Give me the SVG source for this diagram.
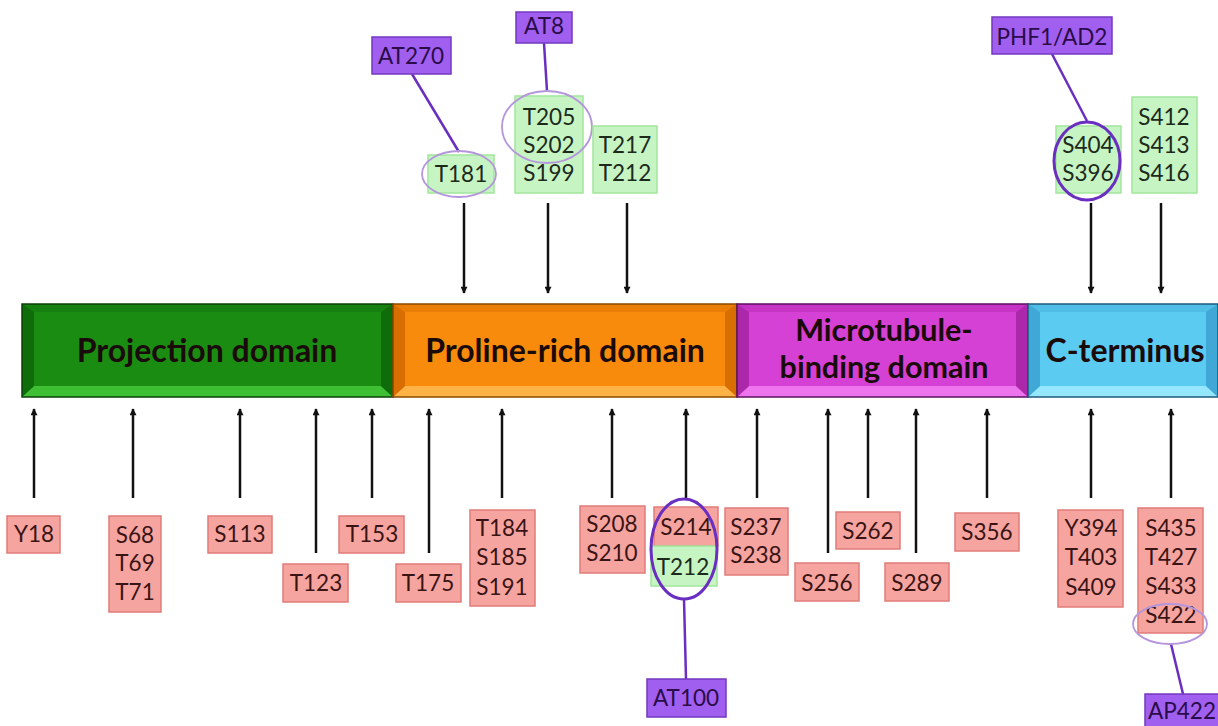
<svg xmlns="http://www.w3.org/2000/svg" width="1218" height="726" viewBox="0 0 1218 726">
<defs>
<marker id="ah" viewBox="0 0 10 10" refX="9" refY="5" markerWidth="8" markerHeight="7" orient="auto" markerUnits="userSpaceOnUse"><path d="M0,0 L10,5 L0,10 z" fill="#111"/></marker>
<style>
.lbl{font-family:Lato,"Open Sans","Liberation Sans",sans-serif;font-size:22.5px;text-anchor:middle}
.dom{font-family:Lato,"Open Sans","Liberation Sans",sans-serif;font-size:32px;font-weight:bold;text-anchor:middle;fill:#1a0a0a}
.dom2{font-size:30.5px}
.pink{fill:#f6a4a0;stroke:#e17c78;stroke-width:1.5}
.green{fill:#c7f4c3;stroke:#a2e69d;stroke-width:1.5}
.purple{fill:#a15ff0;stroke:#7438c0;stroke-width:1.5}
.tp{fill:#3a1414}
.tg{fill:#1c2a1c}
.tv{fill:#2a0c48}
.arr{stroke:#111;stroke-width:2.5;fill:none;marker-end:url(#ah)}
.conn{stroke:#6a2fc0;stroke-width:2.5;fill:none}
.ring{fill:none;stroke:#b596dc;stroke-width:1.8}
.ringb{fill:none;stroke:#6a2fc0;stroke-width:3}
</style>
</defs>
<rect width="1218" height="726" fill="#ffffff"/>

<!-- Domain bar -->
<g id="projection-domain">
<rect x="22" y="304" width="371" height="93" fill="#1b8c12"/>
<polygon points="22,304 393,304 381,312 34,312" fill="#168010"/>
<polygon points="22,397 393,397 381,386 34,386" fill="#3fc034"/>
<polygon points="22,304 34,312 34,386 22,397" fill="#0f6c0a"/>
<polygon points="393,304 381,312 381,386 393,397" fill="#0f6c0a"/>
<rect x="22" y="304" width="371" height="93" fill="none" stroke="#0b3f08" stroke-width="1.5"/>
<text class="dom" x="207" y="362">Projection domain</text>
</g>
<g id="proline-rich-domain">
<rect x="393" y="304" width="344" height="93" fill="#f98b0c"/>
<polygon points="393,304 737,304 725,312 405,312" fill="#e97d06"/>
<polygon points="393,397 737,397 725,386 405,386" fill="#ffb347"/>
<polygon points="393,304 405,312 405,386 393,397" fill="#d86e00"/>
<polygon points="737,304 725,312 725,386 737,397" fill="#d86e00"/>
<rect x="393" y="304" width="344" height="93" fill="none" stroke="#8a4a00" stroke-width="1.5"/>
<text class="dom" x="565" y="362">Proline-rich domain</text>
</g>
<g id="microtubule-binding-domain">
<rect x="737" y="304" width="291" height="93" fill="#d540d5"/>
<polygon points="737,304 1028,304 1016,312 749,312" fill="#c634c6"/>
<polygon points="737,397 1028,397 1016,386 749,386" fill="#ee74ee"/>
<polygon points="737,304 749,312 749,386 737,397" fill="#ab28ab"/>
<polygon points="1028,304 1016,312 1016,386 1028,397" fill="#ab28ab"/>
<rect x="737" y="304" width="291" height="93" fill="none" stroke="#5a1060" stroke-width="1.5"/>
<text class="dom dom2" x="884" y="341">Microtubule-</text>
<text class="dom dom2" x="884" y="378">binding domain</text>
</g>
<g id="c-terminus">
<rect x="1028" y="304" width="190" height="93" fill="#5ccbf2"/>
<polygon points="1028,304 1218,304 1206,312 1040,312" fill="#4fbde6"/>
<polygon points="1028,397 1218,397 1206,386 1040,386" fill="#95e6ff"/>
<polygon points="1028,304 1040,312 1040,386 1028,397" fill="#3fa8d6"/>
<polygon points="1218,304 1206,312 1206,386 1218,397" fill="#3fa8d6"/>
<rect x="1028" y="304" width="190" height="93" fill="none" stroke="#1f5a78" stroke-width="1.5"/>
<text class="dom" x="1125" y="362">C-terminus</text>
</g>

<!-- Connectors -->
<g id="connectors">
<line class="arr" x1="464" y1="203" x2="464" y2="293"/>
<line class="arr" x1="548" y1="203" x2="548" y2="293"/>
<line class="arr" x1="627" y1="203" x2="627" y2="293"/>
<line class="arr" x1="1091" y1="203" x2="1091" y2="293"/>
<line class="arr" x1="1161" y1="203" x2="1161" y2="293"/>

<line class="arr" x1="34" y1="498" x2="34" y2="409"/>
<line class="arr" x1="133" y1="498" x2="133" y2="409"/>
<line class="arr" x1="240" y1="498" x2="240" y2="409"/>
<line class="arr" x1="316" y1="553" x2="316" y2="409"/>
<line class="arr" x1="372" y1="498" x2="372" y2="409"/>
<line class="arr" x1="429" y1="553" x2="429" y2="409"/>
<line class="arr" x1="502" y1="498" x2="502" y2="409"/>
<line class="arr" x1="612" y1="498" x2="612" y2="409"/>
<line class="arr" x1="686" y1="498" x2="686" y2="409"/>
<line class="arr" x1="757" y1="498" x2="757" y2="409"/>
<line class="arr" x1="828" y1="553" x2="828" y2="409"/>
<line class="arr" x1="868" y1="498" x2="868" y2="409"/>
<line class="arr" x1="916" y1="553" x2="916" y2="409"/>
<line class="arr" x1="987" y1="498" x2="987" y2="409"/>
<line class="arr" x1="1091" y1="498" x2="1091" y2="409"/>
<line class="arr" x1="1171" y1="498" x2="1171" y2="409"/>

<line class="conn" x1="412" y1="74" x2="459" y2="152"/>
<line class="conn" x1="544" y1="43" x2="547" y2="91"/>
<line class="conn" x1="1052" y1="54" x2="1087" y2="121"/>
<line class="conn" x1="684" y1="599" x2="686" y2="679"/>
<line class="conn" x1="1171" y1="644" x2="1183" y2="694"/>
</g>

<!-- Top sites -->
<g id="at270">
<rect class="purple" x="372" y="37" width="79" height="37"/>
<text class="lbl tv" x="411" y="64">AT270</text>
</g>
<g id="t181">
<rect class="green" x="428" y="155" width="66" height="38"/>
<text class="lbl tg" x="461" y="182">T181</text>
<ellipse class="ring" cx="459" cy="174" rx="37" ry="23"/>
</g>
<g id="at8">
<rect class="purple" x="516" y="12" width="56" height="31"/>
<text class="lbl tv" x="544" y="34">AT8</text>
</g>
<g id="t205-s202-s199">
<rect class="green" x="515" y="96" width="68" height="97"/>
<text class="lbl tg" x="549" y="125">T205</text>
<text class="lbl tg" x="549" y="153">S202</text>
<text class="lbl tg" x="549" y="181">S199</text>
<ellipse class="ring" cx="547" cy="127" rx="45" ry="36"/>
</g>
<g id="t217-t212">
<rect class="green" x="593" y="126" width="64" height="67"/>
<text class="lbl tg" x="625" y="153">T217</text>
<text class="lbl tg" x="625" y="181">T212</text>
</g>
<g id="phf1-ad2">
<rect class="purple" x="992" y="17" width="120" height="37"/>
<text class="lbl tv" x="1052" y="45">PHF1/AD2</text>
</g>
<g id="s404-s396">
<rect class="green" x="1056" y="126" width="65" height="67"/>
<text class="lbl tg" x="1088" y="153">S404</text>
<text class="lbl tg" x="1088" y="181">S396</text>
<ellipse class="ringb" cx="1087" cy="161" rx="33" ry="39"/>
</g>
<g id="s412-s413-s416">
<rect class="green" x="1132" y="97" width="65" height="96"/>
<text class="lbl tg" x="1164" y="125">S412</text>
<text class="lbl tg" x="1164" y="153">S413</text>
<text class="lbl tg" x="1164" y="181">S416</text>
</g>

<!-- Bottom sites -->
<g id="y18">
<rect class="pink" x="7" y="516" width="53" height="37"/>
<text class="lbl tp" x="34" y="542">Y18</text>
</g>
<g id="s68-t69-t71">
<rect class="pink" x="109" y="516" width="52" height="96"/>
<text class="lbl tp" x="135" y="543">S68</text>
<text class="lbl tp" x="135" y="571">T69</text>
<text class="lbl tp" x="135" y="600">T71</text>
</g>
<g id="s113">
<rect class="pink" x="208" y="516" width="64" height="37"/>
<text class="lbl tp" x="240" y="542">S113</text>
</g>
<g id="t123">
<rect class="pink" x="283" y="564" width="65" height="38"/>
<text class="lbl tp" x="316" y="591">T123</text>
</g>
<g id="t153">
<rect class="pink" x="339" y="516" width="65" height="37"/>
<text class="lbl tp" x="372" y="542">T153</text>
</g>
<g id="t175">
<rect class="pink" x="396" y="564" width="65" height="38"/>
<text class="lbl tp" x="428" y="591">T175</text>
</g>
<g id="t184-s185-s191">
<rect class="pink" x="470" y="510" width="65" height="96"/>
<text class="lbl tp" x="502" y="536">T184</text>
<text class="lbl tp" x="502" y="565">S185</text>
<text class="lbl tp" x="502" y="595">S191</text>
</g>
<g id="s208-s210">
<rect class="pink" x="580" y="506" width="65" height="67"/>
<text class="lbl tp" x="612" y="532">S208</text>
<text class="lbl tp" x="612" y="561">S210</text>
</g>
<g id="s214-t212">
<rect class="pink" x="654" y="507" width="64" height="39"/>
<rect class="green" x="651" y="546" width="66" height="40"/>
<text class="lbl tp" x="686" y="535">S214</text>
<text class="lbl tg" x="683" y="575">T212</text>
<ellipse class="ringb" cx="684" cy="549" rx="33" ry="50"/>
</g>
<g id="at100">
<rect class="purple" x="647" y="679" width="79" height="38"/>
<text class="lbl tv" x="686" y="706">AT100</text>
</g>
<g id="s237-s238">
<rect class="pink" x="725" y="508" width="63" height="67"/>
<text class="lbl tp" x="756" y="535">S237</text>
<text class="lbl tp" x="756" y="563">S238</text>
</g>
<g id="s256">
<rect class="pink" x="795" y="563" width="64" height="38"/>
<text class="lbl tp" x="827" y="591">S256</text>
</g>
<g id="s262">
<rect class="pink" x="836" y="512" width="64" height="37"/>
<text class="lbl tp" x="868" y="539">S262</text>
</g>
<g id="s289">
<rect class="pink" x="885" y="563" width="64" height="38"/>
<text class="lbl tp" x="917" y="591">S289</text>
</g>
<g id="s356">
<rect class="pink" x="955" y="513" width="64" height="38"/>
<text class="lbl tp" x="987" y="540">S356</text>
</g>
<g id="y394-t403-s409">
<rect class="pink" x="1058" y="510" width="65" height="97"/>
<text class="lbl tp" x="1091" y="536">Y394</text>
<text class="lbl tp" x="1091" y="565">T403</text>
<text class="lbl tp" x="1091" y="595">S409</text>
</g>
<g id="s435-t427-s433-s422">
<rect class="pink" x="1138" y="508" width="65" height="125"/>
<text class="lbl tp" x="1171" y="536">S435</text>
<text class="lbl tp" x="1171" y="565">T427</text>
<text class="lbl tp" x="1171" y="594">S433</text>
<text class="lbl tp" x="1171" y="623">S422</text>
<ellipse class="ring" cx="1170" cy="624" rx="37" ry="20"/>
</g>
<g id="ap422">
<rect class="purple" x="1145" y="694" width="80" height="36"/>
<text class="lbl tv" x="1182" y="719">AP422</text>
</g>
</svg>
